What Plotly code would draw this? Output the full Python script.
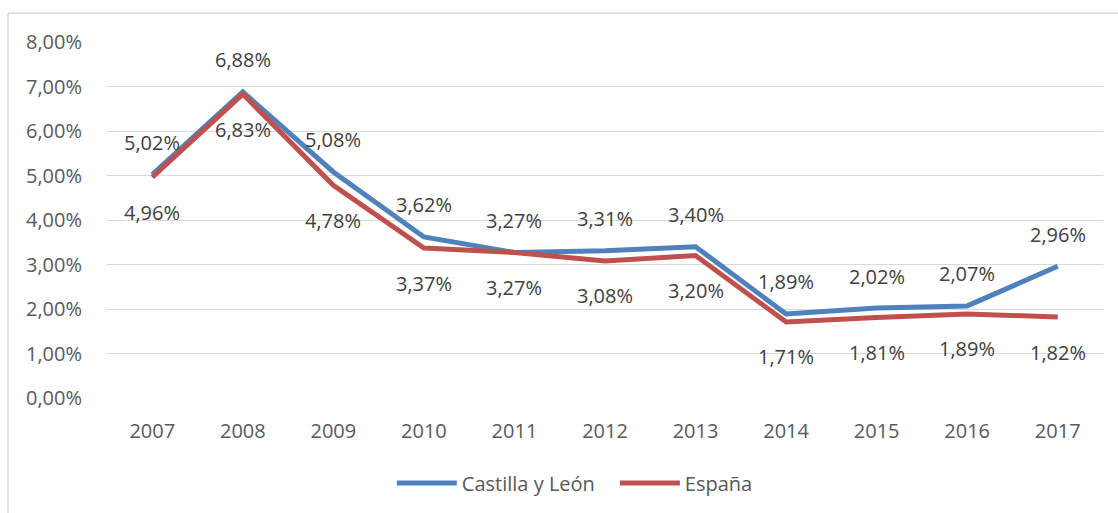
import plotly.graph_objects as go

years = ["2007", "2008", "2009", "2010", "2011", "2012", "2013", "2014", "2015", "2016", "2017"]
castilla = [5.02, 6.88, 5.08, 3.62, 3.27, 3.31, 3.40, 1.89, 2.02, 2.07, 2.96]
espana = [4.96, 6.83, 4.78, 3.37, 3.27, 3.08, 3.20, 1.71, 1.81, 1.89, 1.82]
y_ticks = [0, 1, 2, 3, 4, 5, 6, 7, 8]

BLUE = "#4F81BD"
RED = "#C0504D"
FONT = "Open Sans"
FS = 20

def fmt(v):
    return f"{v:.2f}".replace(".", ",") + "%"

fig = go.Figure()
fig.add_trace(go.Scatter(x=years, y=castilla, mode="lines", name="Castilla y León",
                         line=dict(color=BLUE, width=5)))
fig.add_trace(go.Scatter(x=years, y=espana, mode="lines", name="España",
                         line=dict(color=RED, width=5)))

ann = []
for i, v in enumerate(castilla):
    ann.append(dict(x=i, y=v, xref="x", yref="y", text=fmt(v), showarrow=False, yshift=32,
                    font=dict(family=FONT, size=FS, color="#404040")))
for i, v in enumerate(espana):
    ann.append(dict(x=i, y=v, xref="x", yref="y", text=fmt(v), showarrow=False, yshift=-35,
                    font=dict(family=FONT, size=FS, color="#404040")))

fig.update_layout(
    width=1118, height=513,
    margin=dict(l=107, r=15, t=42, b=114),
    paper_bgcolor="white", plot_bgcolor="white",
    annotations=ann,
    showlegend=True,
    legend=dict(orientation="h", x=0.286, xanchor="left", y=-0.235, yanchor="middle",
                font=dict(family=FONT, size=FS, color="#595959"), itemwidth=60,
                entrywidth=148, tracegroupgap=0),
    xaxis=dict(type="category", range=[-0.5, 10.5], showgrid=False, showline=False,
               ticks="", tickfont=dict(family=FONT, size=FS, color="#595959"), ticklabelstandoff=19),
    yaxis=dict(range=[0, 8], tickvals=y_ticks, ticktext=[fmt(t) for t in y_ticks],
               showgrid=True, gridcolor="#D9D9D9", gridwidth=1, zeroline=False,
               showline=False, ticks="", tickfont=dict(family=FONT, size=FS, color="#595959"),
               ticklabelstandoff=24),
    shapes=[
        dict(type="line", xref="paper", yref="paper", x0=-0.0994, x1=1.1, y0=1.081, y1=1.081,
             line=dict(color="#D9D9D9", width=1.5)),
        dict(type="line", xref="paper", yref="paper", x0=-0.0994, x1=-0.0994, y0=1.081, y1=-0.33,
             line=dict(color="#D9D9D9", width=1.5)),
    ],
)
fig.write_html("out.html", config={"displayModeBar": False},
               post_script="document.body.style.margin='0';")
